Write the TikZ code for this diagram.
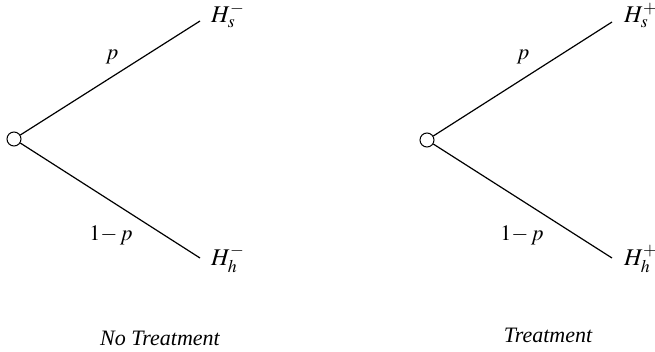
\documentclass[tikz,border=0pt]{standalone}
\usepackage{mathptmx}
\usepackage{fontspec}
\setmainfont{Liberation Serif}
\begin{document}
\begin{tikzpicture}[x=1pt,y=-1pt,
  chance/.style={draw,circle,line width=1pt,minimum size=14pt,inner sep=0pt,fill=white},
  branch/.style={line width=1.2pt},
  lbl/.style={inner sep=0pt,font=\fontsize{22}{26}\selectfont},
  leaf/.style={inner sep=0pt,anchor=base west,font=\fontsize{24}{28}\selectfont},
  captext/.style={inner sep=0pt,font=\fontsize{22}{26}\selectfont\itshape}]
\useasboundingbox (0,0) rectangle (655,351);
% left tree
\node[chance] (c1) at (14,139) {};
\coordinate (u1) at (200,21);
\coordinate (d1) at (200,258);
\draw[branch] (c1) -- (u1);
\draw[branch] (c1) -- (d1);
\node[leaf] (hs1) at (211,22) {$H_s^-$};
\node[leaf] (hh1) at (211,265) {$H_h^-$};
\node[lbl] (p1) at (112,57) {$p$};
\node[lbl] (q1) at (111,235) {$1{-}\,p$};
\node[captext] (t1) at (160,338) {No Treatment};
% right tree
\node[chance] (c2) at (427,140) {};
\coordinate (u2) at (612,22);
\coordinate (d2) at (612,258);
\draw[branch] (c2) -- (u2);
\draw[branch] (c2) -- (d2);
\node[leaf] (hs2) at (624,22) {$H_s^+$};
\node[leaf] (hh2) at (624,265) {$H_h^+$};
\node[lbl] (p2) at (523,57) {$p$};
\node[lbl] (q2) at (522,235) {$1{-}\,p$};
\node[captext] (t2) at (548,335) {Treatment};
\end{tikzpicture}
\end{document}
